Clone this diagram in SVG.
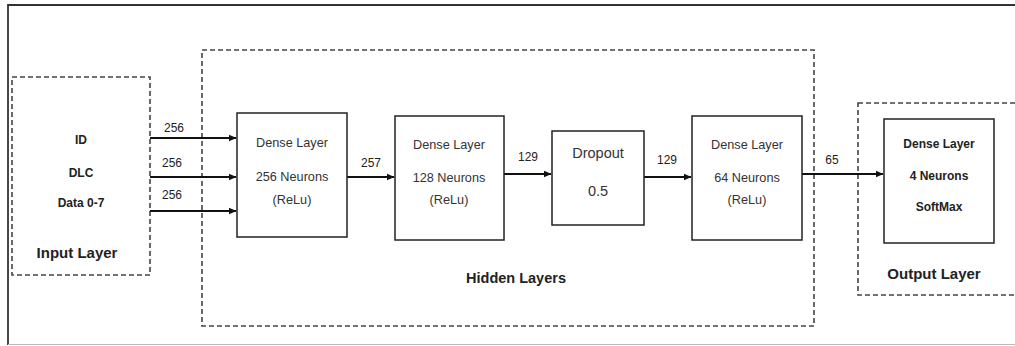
<svg xmlns="http://www.w3.org/2000/svg" width="1015" height="346" viewBox="0 0 1015 346">
<style>
text{font-family:"Liberation Sans",Arial,sans-serif;fill:#222;text-anchor:middle;dominant-baseline:central}
.t{font-size:12px}
.n{font-size:12.7px;fill:#333}
.b{font-weight:bold}
.dash{fill:none;stroke:#444;stroke-width:1.6;stroke-dasharray:5,3}
.box{fill:#fff;stroke:#222;stroke-width:1.5}
.conn{stroke:#111;stroke-width:2;fill:none;marker-end:url(#ah)}
</style>
<defs>
<marker id="ah" markerWidth="8" markerHeight="8" refX="7" refY="4" orient="auto" markerUnits="userSpaceOnUse">
<path d="M0,0.8 L7.5,4 L0,7.2 Z" fill="#111"/>
</marker>
</defs>
<rect width="1015" height="346" fill="#fff"/>
<path d="M8,345 L8,5 L1015,5" fill="none" stroke="#333" stroke-width="1.8"/>
<line x1="8" y1="344.5" x2="1015" y2="344.5" stroke="#bbb" stroke-width="1.2"/>

<g id="input-layer">
<rect class="dash" x="12" y="77" width="138" height="198"/>
<text class="t b" x="81" y="140">ID</text>
<text class="t b" x="81" y="173">DLC</text>
<text class="t b" x="81" y="203">Data 0-7</text>
<text x="77" y="252" style="font-size:15px;font-weight:bold">Input Layer</text>
</g>

<g id="hidden-layers">
<rect class="dash" x="202" y="50" width="612" height="276"/>
<text x="516" y="278" style="font-size:14.5px;font-weight:bold">Hidden Layers</text>
</g>

<g id="output-layer">
<rect class="dash" x="858" y="103" width="170" height="192"/>
<text x="934" y="273" style="font-size:15px;font-weight:bold">Output Layer</text>
</g>

<g id="connectors">
<line class="conn" x1="150" y1="138" x2="236" y2="138"/>
<line class="conn" x1="150" y1="177" x2="236" y2="177"/>
<line class="conn" x1="150" y1="211" x2="236" y2="211"/>
<line class="conn" x1="347" y1="177" x2="394" y2="177"/>
<line class="conn" x1="504" y1="174" x2="551" y2="174"/>
<line class="conn" x1="644" y1="177" x2="691" y2="177"/>
<line class="conn" x1="802" y1="174" x2="883" y2="174"/>
<text class="t" x="174" y="128">256</text>
<text class="t" x="172" y="163">256</text>
<text class="t" x="172" y="195">256</text>
<text class="t" x="371" y="163">257</text>
<text class="t" x="528" y="157">129</text>
<text class="t" x="667" y="160">129</text>
<text class="t" x="832" y="160">65</text>
</g>

<g id="dense1">
<rect class="box" x="237" y="113" width="110" height="124"/>
<text class="n" x="292" y="143">Dense Layer</text>
<text class="n" x="292" y="177">256 Neurons</text>
<text class="n" x="292" y="200">(ReLu)</text>
</g>

<g id="dense2">
<rect class="box" x="395" y="116" width="109" height="124"/>
<text class="n" x="449" y="145">Dense Layer</text>
<text class="n" x="449" y="178">128 Neurons</text>
<text class="n" x="449" y="200">(ReLu)</text>
</g>

<g id="dropout">
<rect class="box" x="552" y="131" width="92" height="94"/>
<text x="598" y="153" style="font-size:14.5px;fill:#333">Dropout</text>
<text x="598" y="191" style="font-size:14.5px;fill:#333">0.5</text>
</g>

<g id="dense3">
<rect class="box" x="692" y="116" width="110" height="124"/>
<text class="n" x="747" y="145">Dense Layer</text>
<text class="n" x="747" y="178">64 Neurons</text>
<text class="n" x="747" y="200">(ReLu)</text>
</g>

<g id="dense-out">
<rect class="box" x="884" y="119" width="110" height="124"/>
<text class="t b" x="939" y="144">Dense Layer</text>
<text class="t b" x="939" y="176">4 Neurons</text>
<text class="t b" x="939" y="207">SoftMax</text>
</g>
</svg>
